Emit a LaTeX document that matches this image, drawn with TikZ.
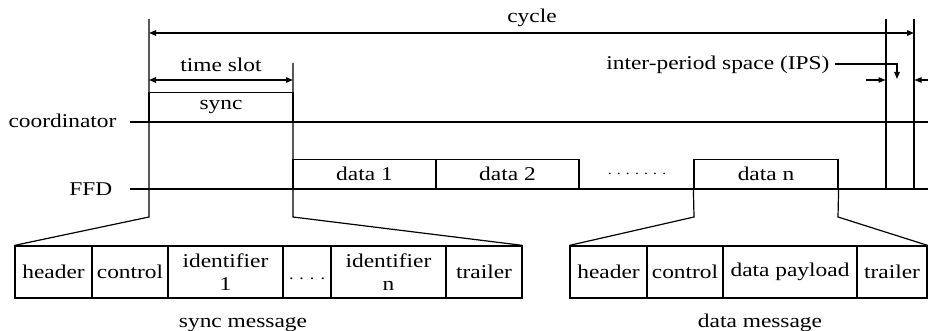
\documentclass[tikz,border=0pt]{standalone}
\usepackage{fontspec}
\setmainfont[FakeStretch=1.2]{Liberation Serif}
\usetikzlibrary{arrows.meta}
\begin{document}
\begin{tikzpicture}[x=1pt,y=-1pt,line width=1.2pt,
  txt/.style={font=\fontsize{19.5}{23.4}\selectfont,inner sep=0pt},
  dotfont/.style={font=\fontsize{13}{15}\selectfont,inner sep=0pt},
  cell/.style={txt,draw,minimum height=52pt,align=center},
  slotbox/.style={txt,draw,minimum height=29.5pt},
  tip/.style={-{Triangle[length=7pt,width=5.5pt]}},
  dtip/.style={{Triangle[length=7pt,width=5.5pt]}-{Triangle[length=7pt,width=5.5pt]}}]
\useasboundingbox (0,0) rectangle (928,331);

% labels
\node[txt,anchor=base east] (coord) at (117,128) {coordinator};
\node[txt,anchor=base east] (ffd) at (113,195) {FFD};

% time lines
\coordinate (cl0) at (130,122);
\coordinate (cl1) at (928,122);
\coordinate (fl0) at (130,189);
\coordinate (fl1) at (928,189);
\draw (cl0) -- (cl1);
\draw (fl0) -- (fl1);

% slots
\node[slotbox,minimum width=144pt] (sync) at (221,107.5) {sync};
\node[slotbox,minimum width=143pt] (d1) at (364.5,174) {data 1};
\node[slotbox,minimum width=143pt] (d2) at (507.5,174) {data 2};
\node[dotfont,anchor=base] (dots) at (637,175) {. . . . . . .};
\node[slotbox,minimum width=144pt] (dn) at (766,174) {data n};

% sync message cells
\node[cell,minimum width=77pt] (sh) at (53.5,272) {header};
\node[cell,minimum width=76pt] (sc) at (130,272) {control};
\node[cell,minimum width=115pt] (si1) at (225.5,272) {identifier\\1};
\node[draw,minimum width=48pt,minimum height=52pt,inner sep=0pt] (sd) at (307,272) {};
\node[dotfont,anchor=base,font=\fontsize{15}{17}\selectfont] (sdt) at (sd.center |- 0,279) {. . . .};
\node[cell,minimum width=115pt] (sin) at (388.5,272) {identifier\\n};
\node[cell,minimum width=76pt] (st) at (484,272) {trailer};
\node[txt,anchor=base] (smsg) at (243,327) {sync message};

% data message cells
\node[cell,minimum width=77pt] (dh) at (608.5,272) {header};
\node[cell,minimum width=76pt] (dc) at (685,272) {control};
\node[cell,minimum width=134pt] (dp) at (790,272) {data payload};
\node[cell,minimum width=70pt] (dt) at (892,272) {trailer};
\node[txt,anchor=base] (dmsg) at (760,327) {data message};

% expansion lines
\coordinate (a0) at (149,19);
\coordinate (a1) at (149,217);
\coordinate (b0) at (293,63);
\coordinate (b1) at (293,217);
\draw (a0) -- (a1) -- (sh.north west);
\draw (b0) -- (b1) -- (st.north east);
\coordinate (c1) at (694,217);
\coordinate (e1) at (838,217);
\draw (dn.south west) -- (c1) -- (dh.north west);
\draw (dn.south east) -- (e1) -- (dt.north east);

% cycle
\coordinate (cy0) at (149,33);
\coordinate (cy1) at (914,33);
\draw[dtip] (cy0) -- (cy1);
\node[txt,anchor=base] (cycle) at (532,23) {cycle};

% time slot
\coordinate (ts0) at (149,80);
\coordinate (ts1) at (293,80);
\draw[dtip] (ts0) -- (ts1);
\node[txt,anchor=base] (tslot) at (221,72) {time slot};

% IPS
\coordinate (p0) at (886,19);
\coordinate (p1) at (886,189);
\coordinate (q0) at (914,19);
\coordinate (q1) at (914,189);
\draw (p0) -- (p1);
\draw (q0) -- (q1);
\node[txt,anchor=base east] (ips) at (830,70) {inter-period space (IPS)};
\coordinate (i0) at (835,64);
\coordinate (i1) at (897,79);
\draw[tip] (i0) -| (i1);
\coordinate (s0) at (866,80);
\coordinate (s1) at (885.5,80);
\draw[tip] (s0) -- (s1);
\coordinate (r0) at (928,80);
\coordinate (r1) at (914.5,80);
\draw[tip] (r0) -- (r1);
\end{tikzpicture}
\end{document}
